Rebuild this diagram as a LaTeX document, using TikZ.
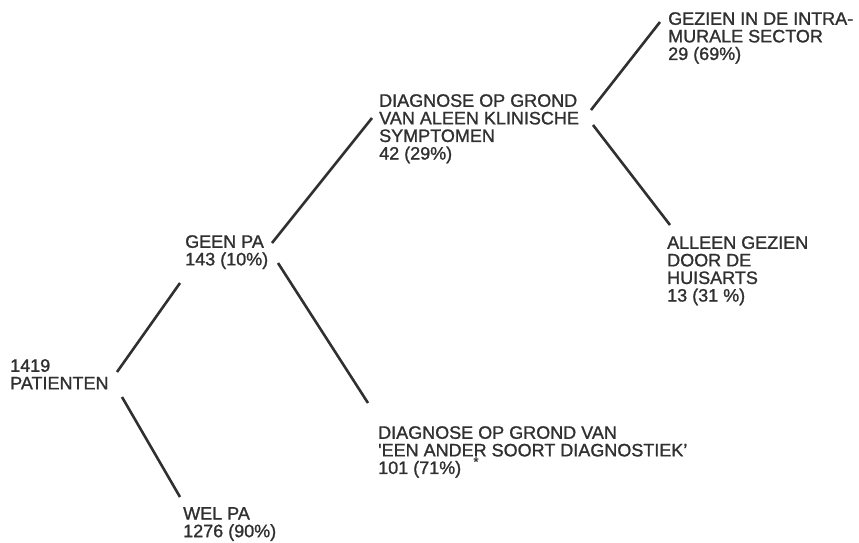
\documentclass[tikz,border=0pt]{standalone}
\usepackage{fontspec}
\setmainfont{Liberation Sans}
\newfontfamily\lblfont[FakeBold=1.2]{Liberation Sans}
\definecolor{ink}{RGB}{48,48,48}
\begin{document}
\begin{tikzpicture}[x=1pt,y=-1pt,
  lbl/.style={anchor=north west,inner sep=0pt,align=left,text=ink,
    font=\lblfont\fontsize{18}{17.6}\selectfont},
  branch/.style={draw=ink,line width=2.6pt}]
\useasboundingbox (0,0) rectangle (859,542);
\node[lbl] (root) at (10,359) {1419\\PATIENTEN};
\node[lbl] (geen) at (185,235) {GEEN PA\\143 (10\%)};
\node[lbl] (wel) at (183,507) {WEL PA\\1276 (90\%)};
\node[lbl] (klin) at (379,94) {DIAGNOSE OP GROND\\VAN ALEEN KLINISCHE\\SYMPTOMEN\\42 (29\%)};
\node[lbl] (ander) at (378,426) {DIAGNOSE OP GROND VAN\\'EEN ANDER SOORT DIAGNOSTIEK’\\101 (71\%)};
\node[anchor=north,inner sep=0pt,text=ink,font=\lblfont\fontsize{13}{13}\selectfont] (ast) at (476,457) {*};
\node[lbl] (intra) at (668,12) {GEZIEN IN DE INTRA-\\MURALE SECTOR\\29 (69\%)};
\node[lbl] (huis) at (667,236) {ALLEEN GEZIEN\\DOOR DE\\HUISARTS\\13 (31 \%)};
\coordinate (r1) at (117,372);
\coordinate (r2) at (122,397);
\coordinate (g0) at (180,283);
\coordinate (w0) at (180,497);
\coordinate (g1) at (272,243);
\coordinate (g2) at (278,263);
\coordinate (k0) at (372,118);
\coordinate (a0) at (368,403);
\coordinate (k1) at (591,110);
\coordinate (k2) at (593,125);
\coordinate (i0) at (660,22);
\coordinate (h0) at (670,225);
\draw[branch] (r1) -- (g0);
\draw[branch] (r2) -- (w0);
\draw[branch] (g1) -- (k0);
\draw[branch] (g2) -- (a0);
\draw[branch] (k1) -- (i0);
\draw[branch] (k2) -- (h0);
\end{tikzpicture}
\end{document}
